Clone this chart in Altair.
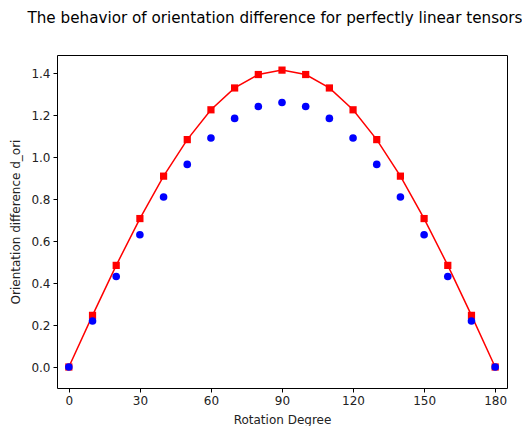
import altair as alt
import pandas as pd

degrees = [0, 10, 20, 30, 40, 50, 60, 70, 80, 90, 100, 110, 120, 130, 140, 150, 160, 170, 180]
red_vals = [0.0, 0.246, 0.484, 0.707, 0.909, 1.083, 1.225, 1.329, 1.393, 1.414,
            1.393, 1.329, 1.225, 1.083, 0.909, 0.707, 0.484, 0.246, 0.0]
blue_vals = [0.0, 0.219, 0.431, 0.630, 0.810, 0.965, 1.091, 1.184, 1.241, 1.260,
             1.241, 1.184, 1.091, 0.965, 0.810, 0.630, 0.431, 0.219, 0.0]
x_ticks = [0, 30, 60, 90, 120, 150, 180]
y_ticks = [0.0, 0.2, 0.4, 0.6, 0.8, 1.0, 1.2, 1.4]

df_red = pd.DataFrame({"deg": degrees, "val": red_vals})
df_blue = pd.DataFrame({"deg": degrees, "val": blue_vals})

FONT = "DejaVu Sans"

x_enc = alt.X("deg:Q", scale=alt.Scale(domain=[-5, 185], nice=False, zero=False),
              axis=alt.Axis(values=x_ticks, title="Rotation Degree", format="d"))
y_enc = alt.Y("val:Q", scale=alt.Scale(domain=[-0.1, 1.486], nice=False, zero=False),
              axis=alt.Axis(values=y_ticks, title="Orientation difference d_ori", format=".1f"))

red_line = alt.Chart(df_red).mark_line(color="#ff0000", strokeWidth=1.5, clip=True).encode(x=x_enc, y=y_enc)
red_pts = alt.Chart(df_red).mark_point(shape="square", filled=True, color="#ff0000", size=52, opacity=1).encode(x=x_enc, y=y_enc)
blue_pts = alt.Chart(df_blue).mark_point(shape="circle", filled=True, color="#0000ff", size=58, opacity=1).encode(x=x_enc, y=y_enc)

chart = alt.layer(red_line, red_pts, blue_pts).properties(
    width=450,
    height=333,
    title=alt.TitleParams("The behavior of orientation difference for perfectly linear tensors",
                          font=FONT, fontSize=15.2, fontWeight="normal", color="#000000",
                          anchor="middle", offset=29, dx=-7),
    autosize=alt.AutoSizeParams(type="none"),
    padding={"left": 57, "top": 55, "right": 15, "bottom": 38},
).configure_view(
    stroke="#000000", strokeWidth=1
).configure_axis(
    grid=False, domain=False,
    tickColor="#000000", tickSize=4, tickWidth=1,
    labelFont=FONT, labelFontSize=12, labelColor="#222222",
    titleFont=FONT, titleFontSize=12, titleFontWeight="normal", titleColor="#222222",
    labelPadding=3,
).configure_axisY(
    titlePadding=8
).configure_axisX(
    titlePadding=8
)

chart.save("out.html", embed_options={"renderer": "svg", "actions": False})
